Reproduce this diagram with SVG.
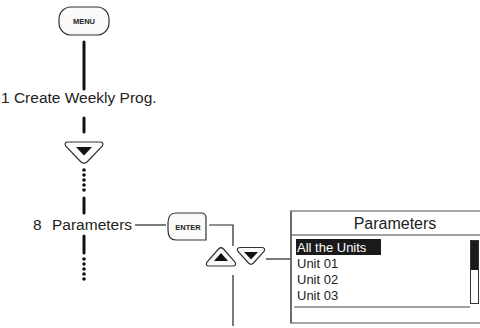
<svg xmlns="http://www.w3.org/2000/svg" width="480" height="328" viewBox="0 0 480 328">
<style>
.btn{fill:#fafafa;stroke:#333;stroke-width:1.2}
.thick{stroke:#111;stroke-width:3;stroke-linecap:round;fill:none}
.thin{stroke:#222;stroke-width:1.2;fill:none}
.dot{fill:#111}
.lbl{font-family:"Liberation Sans",Arial,sans-serif;font-size:15.5px;fill:#222}
.btxt{font-family:"Liberation Sans",Arial,sans-serif;font-size:7.5px;font-weight:bold;fill:#222;text-anchor:middle}
.lcd{font-family:"Liberation Sans",Arial,sans-serif;font-size:13px;fill:#222}
</style>
<g id="connectors">
<line class="thick" x1="84" y1="42" x2="84" y2="89"/>
<line class="thick" x1="84" y1="118" x2="84" y2="132"/>
<g class="dot"><circle cx="84" cy="170" r="1.8"/><circle cx="84" cy="175" r="1.8"/><circle cx="84" cy="180" r="1.8"/><circle cx="84" cy="185" r="1.8"/><circle cx="84" cy="190" r="1.8"/></g>
<line class="thick" x1="84" y1="198" x2="84" y2="213"/>
<line class="thick" x1="84" y1="236" x2="84" y2="253"/>
<g class="dot"><circle cx="84" cy="259" r="1.8"/><circle cx="84" cy="264" r="1.8"/><circle cx="84" cy="269" r="1.8"/><circle cx="84" cy="274" r="1.8"/><circle cx="84" cy="279" r="1.8"/></g>
<line class="thin" x1="135" y1="225" x2="166" y2="225"/>
<polyline class="thin" points="209,225 233,225 233,246"/>
<line class="thin" x1="266" y1="259" x2="291" y2="259"/>
<line class="thin" x1="233" y1="275" x2="233" y2="326"/>
</g>
<g id="menu">
<rect class="btn" x="59" y="7" width="50" height="28" rx="12"/>
<text class="btxt" x="84" y="24">MENU</text>
</g>
<g id="step1"><text class="lbl" x="1" y="103">1 Create Weekly Prog.</text></g>
<g id="down1">
<path class="btn" d="M68,142 H100 Q104.5,142 102,146.5 L87.5,161.5 Q84,165 80.5,161.5 L66,146.5 Q63.5,142 68,142 Z"/>
<path fill="#111" d="M76,147 H92 L84,155.5 Z"/>
</g>
<g id="step8"><text class="lbl" y="229.5"><tspan x="33">8</tspan><tspan x="52">Parameters</tspan></text></g>
<g id="enter">
<path class="btn" d="M176,213 H201 Q206,213 206,218 V240 H176 Q168,240 168,230 V223 Q168,213 176,213 Z"/>
<text class="btxt" x="188" y="229.5">ENTER</text>
</g>
<g id="up">
<path class="btn" d="M209.5,266 H232.5 Q237,266 235,262 L223.5,249 Q221,246.5 218.5,249 L207,262 Q205,266 209.5,266 Z"/>
<path fill="#111" d="M214,261 H228 L221,253 Z"/>
</g>
<g id="down2">
<path class="btn" d="M240.5,247.5 H261.5 Q266,247.5 264,251.5 L253.5,263 Q251,265.5 248.5,263 L238,251.5 Q236,247.5 240.5,247.5 Z"/>
<path fill="#111" d="M244,252 H258 L251,259.5 Z"/>
</g>
<g id="lcd">
<rect x="291" y="211" width="192" height="112" fill="#fff" stroke="#888" stroke-width="1.5"/>
<line x1="291" y1="211" x2="291" y2="323" stroke="#333" stroke-width="1"/>
<line x1="291" y1="235" x2="480" y2="235" stroke="#444" stroke-width="1"/>
<text class="lcd" x="395" y="229" text-anchor="middle" style="font-size:16px">Parameters</text>
<rect x="296" y="239" width="85" height="16" fill="#1a1a1a"/>
<text class="lcd" x="297" y="252" style="fill:#fff">All the Units</text>
<text class="lcd" x="297" y="268">Unit 01</text>
<text class="lcd" x="297" y="284">Unit 02</text>
<text class="lcd" x="297" y="300">Unit 03</text>
<line x1="294" y1="307" x2="470" y2="307" stroke="#444" stroke-width="1"/>
<rect x="470.5" y="240.5" width="8" height="63" fill="#fff" stroke="#333" stroke-width="1"/>
<rect x="471" y="241" width="7" height="29" fill="#1a1a1a"/>
</g>
</svg>
